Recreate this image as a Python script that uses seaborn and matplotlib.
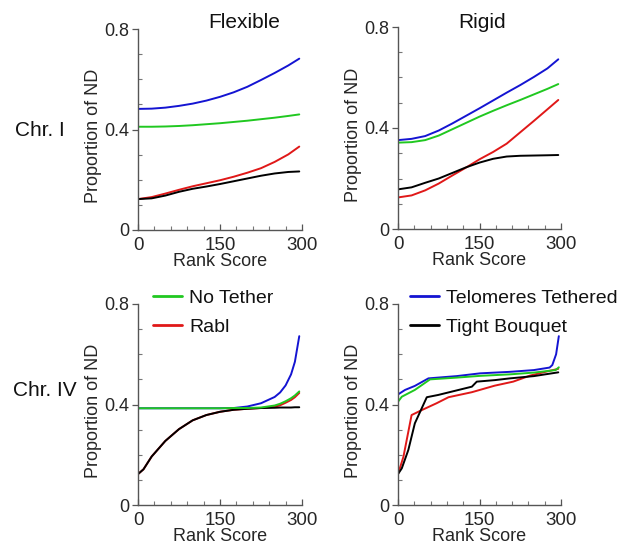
import numpy as np
import pandas as pd
import matplotlib
matplotlib.use("Agg")
import matplotlib.pyplot as plt
from matplotlib.ticker import MultipleLocator
from matplotlib.lines import Line2D
import seaborn as sns

# ---- data -------------------------------------------------------------
models = ["Telomeres Tethered", "Rabl", "Tight Bouquet", "No Tether"]
colors = {"Telomeres Tethered": "#1414d2", "Rabl": "#e01818",
          "Tight Bouquet": "#000000", "No Tether": "#20c820"}

# Chr. I, flexible chromosomes
flex1_rank = [0, 25, 50, 75, 100, 125, 150, 175, 200, 225, 250, 275, 295]
flex1_tethered = [0.482, 0.483, 0.487, 0.494, 0.503, 0.515, 0.530, 0.548, 0.570, 0.597, 0.625, 0.655, 0.682]
flex1_rabl = [0.123, 0.131, 0.145, 0.160, 0.174, 0.186, 0.198, 0.212, 0.228, 0.246, 0.271, 0.301, 0.332]
flex1_bouquet = [0.123, 0.126, 0.137, 0.152, 0.164, 0.173, 0.183, 0.194, 0.205, 0.216, 0.225, 0.231, 0.233]
flex1_none = [0.411, 0.411, 0.412, 0.414, 0.417, 0.421, 0.425, 0.430, 0.435, 0.441, 0.447, 0.454, 0.460]

# Chr. I, rigid chromosomes
rigid1_rank = [0, 25, 50, 75, 100, 125, 150, 175, 200, 225, 250, 275, 295]
rigid1_tethered = [0.352, 0.357, 0.368, 0.390, 0.418, 0.448, 0.478, 0.509, 0.540, 0.570, 0.602, 0.636, 0.672]
rigid1_rabl = [0.125, 0.133, 0.153, 0.180, 0.212, 0.243, 0.276, 0.305, 0.338, 0.383, 0.428, 0.474, 0.511]
rigid1_bouquet = [0.157, 0.165, 0.183, 0.200, 0.222, 0.244, 0.263, 0.278, 0.287, 0.290, 0.291, 0.292, 0.293]
rigid1_none = [0.342, 0.344, 0.352, 0.370, 0.395, 0.420, 0.445, 0.468, 0.490, 0.511, 0.533, 0.555, 0.574]

# Chr. IV, flexible chromosomes
flex4_rank = [0, 10, 25, 50, 75, 100, 125, 150, 175, 200, 225, 250, 260, 270, 280, 287, 295]
flex4_tethered = [0.385, 0.385, 0.385, 0.385, 0.385, 0.385, 0.385, 0.385, 0.386, 0.392, 0.405,
                  0.430, 0.448, 0.476, 0.520, 0.570, 0.672]
flex4_rabl = [0.123, 0.142, 0.193, 0.255, 0.302, 0.337, 0.358, 0.371, 0.379, 0.383, 0.386,
              0.391, 0.397, 0.407, 0.418, 0.429, 0.446]
flex4_bouquet = [0.123, 0.142, 0.193, 0.255, 0.302, 0.337, 0.358, 0.371, 0.379, 0.383, 0.386,
                 0.387, 0.388, 0.388, 0.388, 0.389, 0.389]
flex4_none = [0.385, 0.385, 0.385, 0.385, 0.385, 0.385, 0.385, 0.385, 0.386, 0.386, 0.388,
              0.396, 0.403, 0.413, 0.425, 0.436, 0.452]

# Chr. IV, rigid chromosomes (each model sampled at its own ranks)
rigid4_tethered_rank = [0, 13, 31, 56, 108, 151, 206, 250, 279, 284, 291, 296]
rigid4_tethered = [0.440, 0.458, 0.474, 0.504, 0.513, 0.524, 0.530, 0.537, 0.547, 0.557, 0.600, 0.672]
rigid4_rabl_rank = [0, 10, 25, 44, 71, 93, 136, 178, 212, 243, 273, 295]
rigid4_rabl = [0.123, 0.192, 0.358, 0.378, 0.405, 0.429, 0.449, 0.475, 0.491, 0.515, 0.531, 0.542]
rigid4_bouquet_rank = [0, 7, 19, 31, 53, 74, 136, 145, 178, 206, 250, 295]
rigid4_bouquet = [0.123, 0.146, 0.219, 0.325, 0.429, 0.438, 0.471, 0.491, 0.497, 0.504, 0.513, 0.528]
rigid4_none_rank = [0, 7, 31, 59, 108, 151, 206, 250, 290, 296]
rigid4_none = [0.411, 0.431, 0.458, 0.500, 0.507, 0.514, 0.520, 0.527, 0.537, 0.548]

x_ticks = [0, 150, 300]
x_ticklabels = ["0", "150", "300"]
y_ticks = [0, 0.4, 0.8]
y_ticklabels = ["0", "0.4", "0.8"]


def frame(series):
    """series: list of (model, ranks, values) -> long-format table"""
    parts = [pd.DataFrame({"rank": r, "nd": v, "model": m}) for m, r, v in series]
    return pd.concat(parts, ignore_index=True)


panels = {
    "flex1": frame([("Telomeres Tethered", flex1_rank, flex1_tethered),
                    ("Rabl", flex1_rank, flex1_rabl),
                    ("Tight Bouquet", flex1_rank, flex1_bouquet),
                    ("No Tether", flex1_rank, flex1_none)]),
    "rigid1": frame([("Telomeres Tethered", rigid1_rank, rigid1_tethered),
                     ("Rabl", rigid1_rank, rigid1_rabl),
                     ("Tight Bouquet", rigid1_rank, rigid1_bouquet),
                     ("No Tether", rigid1_rank, rigid1_none)]),
    "flex4": frame([("Telomeres Tethered", flex4_rank, flex4_tethered),
                    ("Rabl", flex4_rank, flex4_rabl),
                    ("Tight Bouquet", flex4_rank, flex4_bouquet),
                    ("No Tether", flex4_rank, flex4_none)]),
    "rigid4": frame([("Telomeres Tethered", rigid4_tethered_rank, rigid4_tethered),
                     ("Rabl", rigid4_rabl_rank, rigid4_rabl),
                     ("Tight Bouquet", rigid4_bouquet_rank, rigid4_bouquet),
                     ("No Tether", rigid4_none_rank, rigid4_none)]),
}

# ---- style ------------------------------------------------------------
sns.set_theme(style="ticks")
plt.rcParams["font.family"] = ["Liberation Sans", "DejaVu Sans"]
plt.rcParams["text.color"] = "#111111"

fig = plt.figure(figsize=(6.2, 5.44), dpi=100)
fig.patch.set_facecolor("white")

W, H = 620.0, 544.0
boxes = {
    "flex1": (138, 29, 302, 230),
    "rigid1": (398, 27, 561, 229),
    "flex4": (138, 304, 302, 505),
    "rigid4": (398, 304, 561, 505),
}

axes = {}
for key, (l, t, r, b) in boxes.items():
    ax = fig.add_axes([l / W, 1 - b / H, (r - l) / W, (b - t) / H])
    axes[key] = ax
    sns.lineplot(data=panels[key], x="rank", y="nd", hue="model",
                 hue_order=models, palette=colors, estimator=None,
                 sort=False, legend=False, linewidth=1.4, ax=ax)
    ax.set_xlim(0, 300)
    ax.set_ylim(0, 0.8)
    ax.set_xticks(x_ticks)
    ax.set_xticklabels(x_ticklabels)
    ax.set_yticks(y_ticks)
    ax.set_yticklabels(y_ticklabels)
    ax.xaxis.set_minor_locator(MultipleLocator(30))
    ax.yaxis.set_minor_locator(MultipleLocator(0.1))
    ax.tick_params(axis="y", which="major", direction="out", length=4,
                   width=0.9, color="#555555", labelsize=13, pad=2)
    ax.tick_params(axis="x", which="major", direction="in", length=4,
                   width=0.9, color="#555555", labelsize=13.5, pad=5)
    ax.tick_params(which="minor", direction="in", length=3, width=0.8,
                   color="#777777")
    for side in ("top", "right"):
        ax.spines[side].set_visible(False)
    for side in ("left", "bottom"):
        ax.spines[side].set_color("#555555")
        ax.spines[side].set_linewidth(1.0)
    ax.set_xlabel("Rank Score", fontsize=13, labelpad=-1)
    ax.set_ylabel("Proportion of ND", fontsize=13)
    ax.yaxis.set_label_coords(-0.22, 0.468)
    ax.set_facecolor("white")

# column and row headings
fig.text(244 / W, 1 - 23 / H, "Flexible", ha="center", va="center", fontsize=15)
fig.text(482 / W, 1 - 23 / H, "Rigid", ha="center", va="center", fontsize=15)
fig.text(40 / W, 1 - 131 / H, "Chr. I", ha="center", va="center", fontsize=15)
fig.text(45 / W, 1 - 391 / H, "Chr. IV", ha="center", va="center", fontsize=15)


def key_lines(names):
    return [Line2D([], [], color=colors[n], lw=2.0) for n in names]


left_names = ["No Tether", "Rabl"]
right_names = ["Telomeres Tethered", "Tight Bouquet"]
for names, x0 in ((left_names, 153), (right_names, 410)):
    fig.legend(key_lines(names), names, loc="upper left",
               bbox_to_anchor=(x0 / W, 1 - 289 / H), frameon=False,
               fontsize=14, handlelength=1.5, handletextpad=0.35,
               labelspacing=0.62, borderpad=0, borderaxespad=0)

fig.savefig("out.png", dpi=100, facecolor="white")
